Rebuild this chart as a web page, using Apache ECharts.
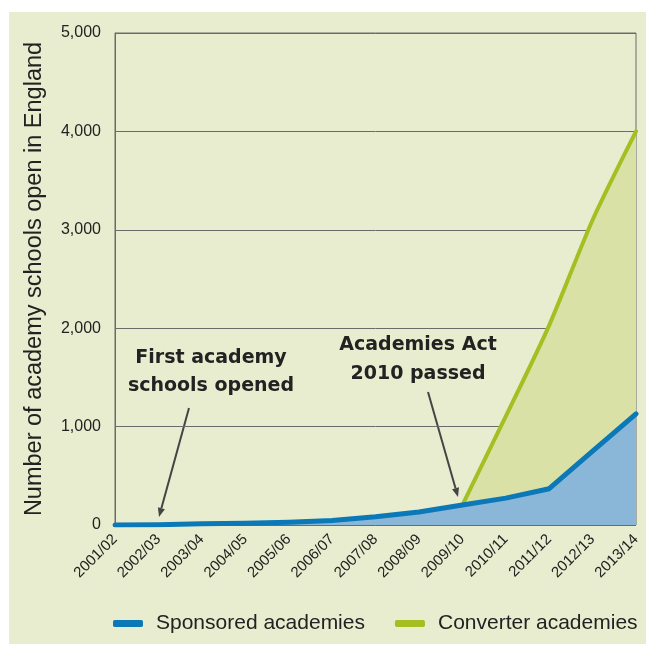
<!DOCTYPE html>
<html>
<head>
<meta charset="utf-8">
<script src="https://cdn.jsdelivr.net/npm/echarts@6/dist/echarts.min.js"></script>
<style>
html,body{margin:0;padding:0;background:#ffffff;}
#panel{position:absolute;left:9px;top:12px;width:637px;height:632px;background:#e9edcf;}
#chart{position:absolute;left:0;top:0;width:646px;height:646px;}
</style>
</head>
<body>
<div id="panel"></div>
<div id="chart"></div>
<script>
const categories = ['2001/02','2002/03','2003/04','2004/05','2005/06','2006/07','2007/08','2008/09','2009/10','2010/11','2011/12','2012/13','2013/14'];
const sponsored = [0, 3, 12, 17, 27, 46, 83, 133, 203, 273, 369, 750, 1130];
// converter academies, stacked on top of sponsored (total minus sponsored)
const converter = ['-', '-', '-', '-', '-', '-', '-', '-', 0, 830, 1660, 2350, 2870];
const yTicks = {min: 0, max: 5000, interval: 1000};

const chart = echarts.init(document.getElementById('chart'));
const font = '"Liberation Sans", Arial, sans-serif';
const annFont = '"DejaVu Sans", sans-serif';

function arrow(x1, y1, x2, y2) {
  const dx = x2 - x1, dy = y2 - y1, len = Math.sqrt(dx*dx + dy*dy);
  const ux = dx/len, uy = dy/len, px = -uy, py = ux;
  const hl = 9, hw = 3.6;
  const bx = x2 - ux*hl, by = y2 - uy*hl;
  return [
    {type:'line', shape:{x1:x1, y1:y1, x2:bx, y2:by}, style:{stroke:'#444', lineWidth:2}},
    {type:'polygon', shape:{points:[[x2,y2],[bx+px*hw, by+py*hw],[bx-px*hw, by-py*hw]]}, style:{fill:'#444'}}
  ];
}

const option = {
  backgroundColor: 'transparent',
  animation: false,
  grid: {left: 115, right: 10, top: 33, bottom: 121, show: true, borderColor: '#6b6b6b', borderWidth: 1, backgroundColor: 'transparent'},
  legend: {
    top: 613, left: 113, width: 533,
    padding: 0,
    itemGap: 30,
    itemWidth: 30, itemHeight: 7,
    icon: 'roundRect',
    textStyle: {fontFamily: font, fontSize: 21, color: '#222', padding: [0,0,0,8]},
    data: ['Sponsored academies', 'Converter academies']
  },
  xAxis: {
    type: 'category',
    data: categories,
    boundaryGap: false,
    axisLine: {show: false},
    axisTick: {show: false},
    axisLabel: {rotate: 45, fontFamily: font, fontSize: 15, color: '#222', margin: 12, interval: 0}
  },
  yAxis: {
    type: 'value',
    min: yTicks.min, max: yTicks.max, interval: yTicks.interval,
    name: 'Number of academy schools open in England',
    nameLocation: 'middle',
    nameGap: 68,
    nameTextStyle: {fontFamily: font, fontSize: 23.5, color: '#222'},
    axisLine: {show: true, lineStyle: {color: '#6b6b6b', width: 1}},
    axisTick: {show: false},
    axisLabel: {fontFamily: font, fontSize: 16, color: '#222', margin: 14},
    splitLine: {show: true, lineStyle: {color: '#6b6b6b', width: 1}}
  },
  series: [
    {
      name: 'Sponsored academies',
      type: 'line',
      stack: 'total',
      data: sponsored,
      smooth: false,
      symbol: 'none',
      color: '#0b78b8',
      lineStyle: {color: '#0b78b8', width: 5, cap: 'round', join: 'round'},
      areaStyle: {color: '#8ab6d8', opacity: 1},
      z: 3
    },
    {
      name: 'Converter academies',
      type: 'line',
      stack: 'total',
      data: converter,
      smooth: 0.25,
      symbol: 'none',
      color: '#a3bf21',
      lineStyle: {color: '#a3bf21', width: 4, cap: 'round'},
      areaStyle: {color: '#dae1a6', opacity: 1},
      z: 2
    }
  ],
  graphic: [
    {type:'text', x: 211, y: 358, style:{text:'First academy', font:'bold 19px ' + annFont, fill:'#222', align:'center', verticalAlign:'middle'}, z: 10},
    {type:'text', x: 211, y: 386, style:{text:'schools opened', font:'bold 19px ' + annFont, fill:'#222', align:'center', verticalAlign:'middle'}, z: 10},
    {type:'text', x: 418, y: 345, style:{text:'Academies Act', font:'bold 19px ' + annFont, fill:'#222', align:'center', verticalAlign:'middle'}, z: 10},
    {type:'text', x: 418, y: 374, style:{text:'2010 passed', font:'bold 19px ' + annFont, fill:'#222', align:'center', verticalAlign:'middle'}, z: 10},
    ...arrow(189, 408, 159, 517),
    ...arrow(428, 392, 458, 497)
  ]
};
chart.setOption(option);
</script>
</body>
</html>
